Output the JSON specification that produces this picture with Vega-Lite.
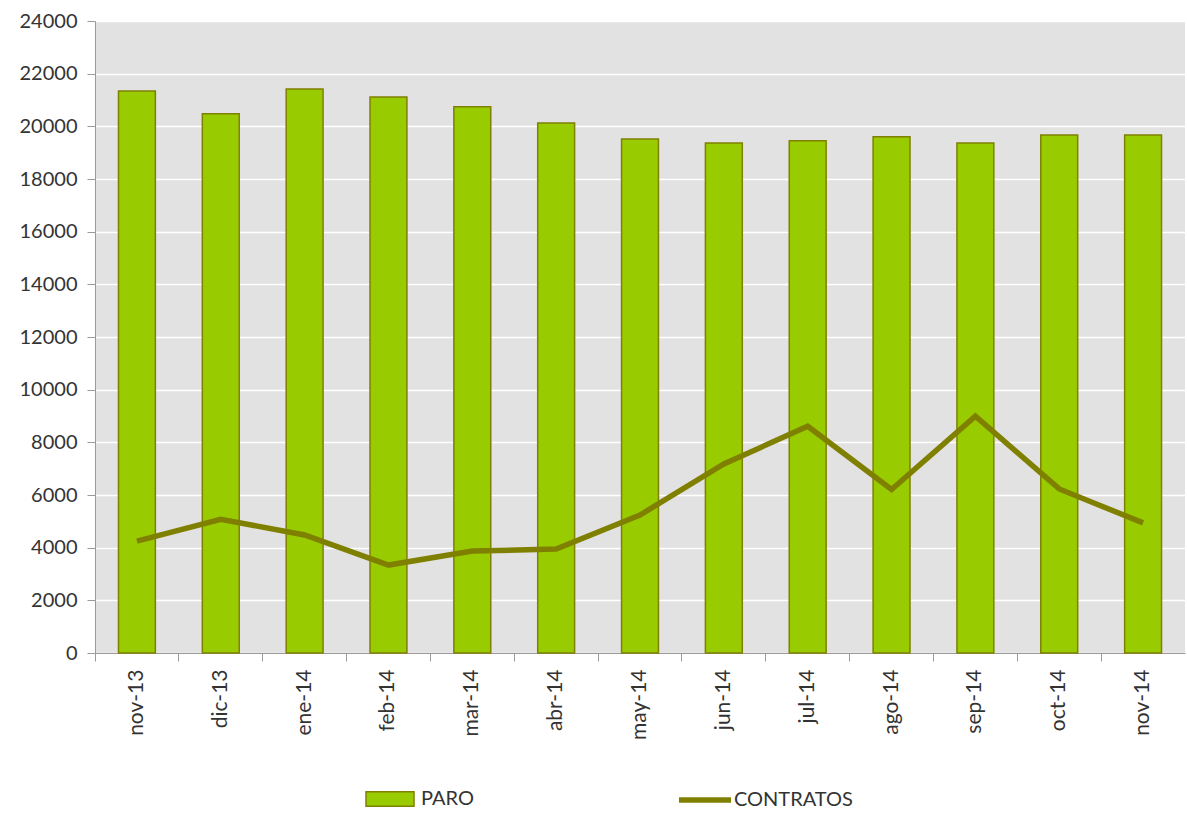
{
  "$schema": "https://vega.github.io/schema/vega-lite/v6.json",
  "width": 1090,
  "height": 632,
  "autosize": {"type": "none"},
  "padding": {"left": 95, "top": 21, "right": 2, "bottom": 161},
  "background": "white",
  "config": {
    "font": "Lato",
    "view": {"fill": "#e2e2e2", "stroke": null},
    "axis": {"labelFont": "Lato", "labelColor": "#333333", "domainColor": "#9a9a9a", "tickColor": "#9a9a9a"}
  },
  "data": {
    "values": [
      {"mes": "nov-13", "paro": 21340, "contratos": 4250},
      {"mes": "dic-13", "paro": 20480, "contratos": 5080},
      {"mes": "ene-14", "paro": 21420, "contratos": 4480},
      {"mes": "feb-14", "paro": 21110, "contratos": 3340},
      {"mes": "mar-14", "paro": 20740, "contratos": 3870},
      {"mes": "abr-14", "paro": 20130, "contratos": 3950},
      {"mes": "may-14", "paro": 19520, "contratos": 5240},
      {"mes": "jun-14", "paro": 19370, "contratos": 7180},
      {"mes": "jul-14", "paro": 19450, "contratos": 8610},
      {"mes": "ago-14", "paro": 19600, "contratos": 6210},
      {"mes": "sep-14", "paro": 19370, "contratos": 8990},
      {"mes": "oct-14", "paro": 19670, "contratos": 6230},
      {"mes": "nov-14", "paro": 19670, "contratos": 4940}
    ]
  },
  "encoding": {
    "x": {
      "field": "mes", "type": "nominal", "sort": null,
      "scale": {"paddingInner": 0, "paddingOuter": 0},
      "axis": {
        "title": null, "labelAngle": -90, "labelFontSize": 21, "labelPadding": 8,
        "bandPosition": 0, "tickSize": 8, "grid": false,
        "labelBaseline": "middle"
      }
    }
  },
  "layer": [
    {
      "mark": {"type": "bar", "width": {"band": 0.44}, "stroke": "#808000", "strokeWidth": 1.5},
      "encoding": {
        "y": {
          "field": "paro", "type": "quantitative",
          "scale": {"domain": [0, 24000], "nice": false},
          "axis": {
            "title": null, "values": [0,2000,4000,6000,8000,10000,12000,14000,16000,18000,20000,22000,24000],
            "format": "d", "labelFontSize": 20, "tickSize": 8, "labelPadding": 10,
            "gridColor": "#ffffff", "gridWidth": 1.5, "gridOpacity": 1
          }
        },
        "fill": {
          "datum": "PARO", "type": "nominal",
          "scale": {"range": ["#99cc00"]},
          "legend": {
            "title": null, "orient": "none", "legendX": 270, "legendY": 753, "padding": 0,
            "symbolType": "M-1,-0.3H1V0.3H-1Z", "symbolSize": 2304, "symbolStrokeColor": "#808000",
            "symbolStrokeWidth": 1.5, "symbolOpacity": 1,
            "labelFontSize": 20, "labelColor": "#333333", "labelOffset": 6
          }
        }
      }
    },
    {
      "mark": {"type": "line", "strokeWidth": 5.5, "color": "#808000"},
      "encoding": {
        "y": {"field": "contratos", "type": "quantitative"},
        "stroke": {
          "datum": "CONTRATOS", "type": "nominal",
          "scale": {"range": ["#808000"]},
          "legend": {
            "title": null, "orient": "none", "legendX": 581, "legendY": 750, "padding": 0,
            "symbolType": "stroke", "symbolSize": 2704, "symbolStrokeWidth": 5.5,
            "labelFontSize": 20, "labelColor": "#333333", "labelOffset": 0
          }
        }
      }
    }
  ]
}
